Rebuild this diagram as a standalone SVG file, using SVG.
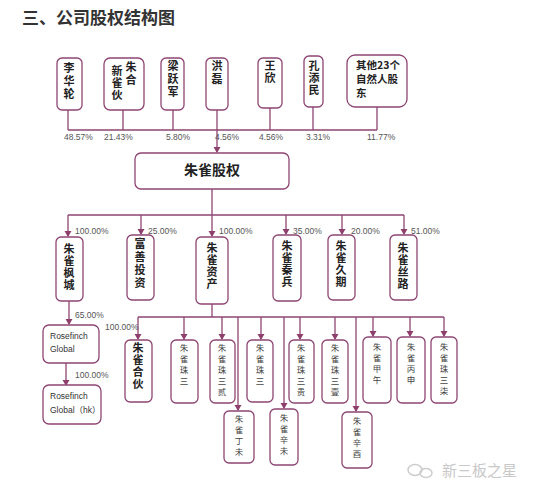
<svg xmlns="http://www.w3.org/2000/svg" width="550" height="500" viewBox="0 0 550 500">
<defs>
<marker id="arr" markerWidth="8" markerHeight="8" refX="4" refY="6" orient="0" markerUnits="userSpaceOnUse">
<path d="M0.5,1 L7.5,1 L4,7 Z" fill="#8e3f6c"/>
</marker>
<style>
.bx{fill:#fff;stroke:#8e4472;stroke-width:1.3}
.ln{fill:none;stroke:#8e4472;stroke-width:1.3}
.la{fill:none;stroke:#8e4472;stroke-width:1.3;marker-end:url(#arr)}
.t{font-family:"Noto Sans CJK SC","Liberation Sans",sans-serif;fill:#222;text-anchor:middle}
.v{writing-mode:vertical-rl;text-anchor:start}
.tb{font-size:11px;font-weight:bold}
.l2{letter-spacing:2px}
.l1{letter-spacing:1px}
.ts{font-size:8.5px;fill:#444;letter-spacing:2.5px}
.pc{font-family:"Liberation Sans","Noto Sans CJK SC",sans-serif;font-size:8.5px;fill:#555}
.en{font-family:"Liberation Sans","Noto Sans CJK SC",sans-serif;font-size:8.5px;fill:#333}
.oh{font-family:"Noto Sans CJK SC","Liberation Sans",sans-serif;font-size:10.5px;font-weight:bold;fill:#222}
</style>
</defs>
<rect width="550" height="500" fill="#fff"/>
<text x="22" y="24" font-family="'Noto Sans CJK SC',sans-serif" font-size="17" font-weight="bold" fill="#333">三、公司股权结构图</text>

<g id="connectors">
<path class="ln" d="M68,110 V130 M123,110 V130 M173,110 V130 M270,108 V130 M313,107 V130 M377,107 V130 M68,130 H377"/>
<path class="la" d="M217,110 V152"/>
<path class="ln" d="M212,189 V215 M68,215 H404"/>
<path class="la" d="M68,215 V236"/>
<path class="la" d="M141,215 V234"/>
<path class="la" d="M212,215 V236"/>
<path class="la" d="M286,215 V234"/>
<path class="la" d="M342,215 V234"/>
<path class="la" d="M404,215 V234"/>
<path class="la" d="M69,301 V324"/>
<path class="la" d="M66,363 V385"/>
<path class="ln" d="M212,304 V317 M138,317 H444"/>
<path class="la" d="M138,317 V339"/>
<path class="la" d="M184,317 V339"/>
<path class="la" d="M222,317 V339"/>
<path class="la" d="M238,317 V410"/>
<path class="la" d="M261,317 V339"/>
<path class="la" d="M284,317 V408"/>
<path class="la" d="M300,317 V339"/>
<path class="la" d="M335,317 V339"/>
<path class="la" d="M356,317 V411"/>
<path class="la" d="M373,317 V336"/>
<path class="la" d="M410,317 V336"/>
<path class="la" d="M444,317 V336"/>
</g>

<g id="pct">
<text class="pc" x="64" y="140">48.57%</text>
<text class="pc" x="104" y="140">21.43%</text>
<text class="pc" x="166" y="140">5.80%</text>
<text class="pc" x="215" y="140">4.56%</text>
<text class="pc" x="259" y="140">4.56%</text>
<text class="pc" x="306" y="140">3.31%</text>
<text class="pc" x="367" y="140">11.77%</text>
<text class="pc" x="75" y="234">100.00%</text>
<text class="pc" x="148" y="234">25.00%</text>
<text class="pc" x="219" y="234">100.00%</text>
<text class="pc" x="293" y="234">35.00%</text>
<text class="pc" x="351" y="234">20.00%</text>
<text class="pc" x="411" y="234">51.00%</text>
<text class="pc" x="75" y="318">65.00%</text>
<text class="pc" x="105" y="330">100.00%</text>
<text class="pc" x="75" y="378">100.00%</text>
</g>

<g id="n_lihualun"><rect class="bx" x="57" y="58" width="25" height="52" rx="5"/>
<text class="t tb v l2" x="69" y="62">李华轮</text></g>
<g id="n_xinzhuque"><rect class="bx" x="104" y="58" width="40" height="52" rx="6"/>
<text class="t tb v l1" x="117" y="65">新雀伙</text><text class="t tb v l2" x="131" y="61">朱合</text></g>
<g id="n_liangyuejun"><rect class="bx" x="161" y="58" width="23" height="52" rx="5"/>
<text class="t tb v l2" x="173" y="60">梁跃军</text></g>
<g id="n_honglei"><rect class="bx" x="206" y="58" width="22" height="52" rx="5"/>
<text class="t tb v l2" x="217" y="60">洪磊</text></g>
<g id="n_wangxin"><rect class="bx" x="258" y="58" width="24" height="50" rx="5"/>
<text class="t tb v l1" x="270" y="60">王欣</text></g>
<g id="n_kongtianmin"><rect class="bx" x="304" y="56" width="19" height="51" rx="5"/>
<text class="t tb v l1" x="314" y="60">孔添民</text></g>
<g id="n_others"><rect class="bx" x="347" y="55" width="60" height="52" rx="8"/>
<text class="oh" x="356" y="69">其他23个</text>
<text class="oh" x="356" y="83">自然人股</text>
<text class="oh" x="356" y="97">东</text></g>

<g id="n_zhuqueguquan"><rect class="bx" x="135" y="153" width="154" height="36" rx="6"/>
<text class="t" x="212" y="175" font-size="14" font-weight="bold">朱雀股权</text></g>

<g id="n_fengcheng"><rect class="bx" x="56" y="237" width="27" height="64" rx="5"/>
<text class="t tb v l1" x="69" y="243">朱雀枫城</text></g>
<g id="n_fushan"><rect class="bx" x="127" y="235" width="27" height="65" rx="5"/>
<text class="t tb v l2" x="140" y="238">富善投资</text></g>
<g id="n_zichan"><rect class="bx" x="196" y="237" width="32" height="67" rx="5"/>
<text class="t tb v l1" x="212" y="242">朱雀资产</text></g>
<g id="n_qinbing"><rect class="bx" x="273" y="235" width="28" height="66" rx="5"/>
<text class="t tb v l1" x="287" y="240">朱雀秦兵</text></g>
<g id="n_jiuqi"><rect class="bx" x="328" y="235" width="27" height="65" rx="5"/>
<text class="t tb v l1" x="341" y="240">朱雀久期</text></g>
<g id="n_silu"><rect class="bx" x="390" y="235" width="27" height="65" rx="5"/>
<text class="t tb v l1" x="403" y="242">朱雀丝路</text></g>

<g id="n_rfglobal"><rect class="bx" x="43" y="325" width="56" height="38" rx="6"/>
<text class="en"><tspan x="50" y="339">Rosefinch</tspan><tspan x="50" y="352">Global</tspan></text></g>
<g id="n_rfglobalhk"><rect class="bx" x="43" y="385" width="58" height="39" rx="6"/>
<text class="en"><tspan x="50" y="399">Rosefinch</tspan><tspan x="50" y="413">Global（hk）</tspan></text></g>

<g id="n_hehuo"><rect class="bx" x="125" y="340" width="27" height="62" rx="5"/>
<text class="t tb v l1" x="138" y="342">朱雀合伙</text></g>
<g id="n_s1"><rect class="bx" x="171" y="340" width="27" height="63" rx="5"/>
<text class="t ts v" x="184" y="344">朱雀珠三</text></g>
<g id="n_s2"><rect class="bx" x="210" y="340" width="25" height="63" rx="5"/>
<text class="t ts v" x="222" y="344">朱雀珠三贰</text></g>
<g id="n_s3"><rect class="bx" x="247" y="340" width="26" height="62" rx="5"/>
<text class="t ts v" x="260" y="344">朱雀珠三</text></g>
<g id="n_s4"><rect class="bx" x="289" y="340" width="25" height="63" rx="5"/>
<text class="t ts v" x="301" y="344">朱雀珠三贵</text></g>
<g id="n_s5"><rect class="bx" x="322" y="340" width="26" height="63" rx="5"/>
<text class="t ts v" x="335" y="344">朱雀珠三壹</text></g>
<g id="n_jiawu"><rect class="bx" x="363" y="337" width="28" height="66" rx="5"/>
<text class="t ts v" x="377" y="343">朱雀甲午</text></g>
<g id="n_bingshen"><rect class="bx" x="397" y="337" width="28" height="66" rx="5"/>
<text class="t ts v" x="411" y="343">朱雀丙申</text></g>
<g id="n_s8"><rect class="bx" x="431" y="337" width="26" height="66" rx="5"/>
<text class="t ts v" x="444" y="343">朱雀珠三柒</text></g>
<g id="n_dingwei"><rect class="bx" x="224" y="411" width="30" height="52" rx="5"/>
<text class="t ts v" x="239" y="415">朱雀丁未</text></g>
<g id="n_xinwei"><rect class="bx" x="270" y="409" width="28" height="56" rx="5"/>
<text class="t ts v" x="284" y="414">朱雀辛未</text></g>
<g id="n_xinyou"><rect class="bx" x="342" y="412" width="30" height="56" rx="5"/>
<text class="t ts v" x="357" y="417">朱雀辛酉</text></g>

<g id="watermark">
<ellipse cx="415" cy="470" rx="7" ry="5.5" fill="none" stroke="#ccc" stroke-width="1.5"/>
<ellipse cx="426" cy="473" rx="6" ry="4.5" fill="none" stroke="#ccc" stroke-width="1.5"/>
<text x="442" y="476" font-family="'Noto Sans CJK SC',sans-serif" font-size="15" fill="#c8c8c8">新三板之星</text>
</g>
</svg>
